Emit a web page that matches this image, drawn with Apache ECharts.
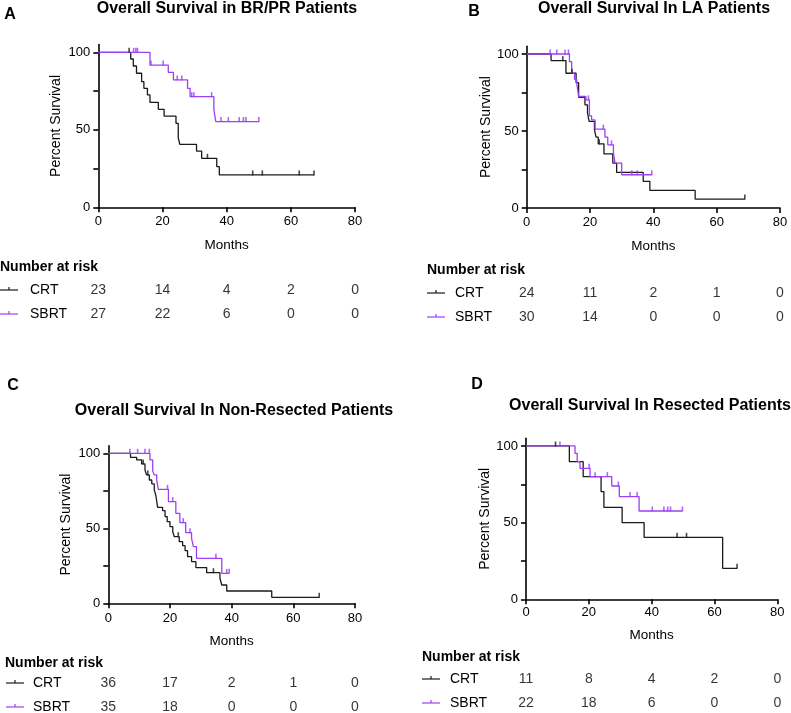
<!DOCTYPE html>
<html><head><meta charset="utf-8">
<script src="https://cdn.jsdelivr.net/npm/echarts@6/dist/echarts.min.js"></script>
<style>html,body{margin:0;padding:0;background:#fff}#c{width:791px;height:713px}</style>
</head><body><div id="c"></div>
<script>
// ---------- DATA ----------
const xTicks = [0, 20, 40, 60, 80];
const riskTimes = [0, 20, 40, 60, 80];
const groups = ['CRT', 'SBRT'];

// Panel A: BR/PR
const aCrtT = [0, 10.1, 10.9, 11.9, 13.5, 14.2, 15.3, 16.1, 18.7, 20.5, 24.2, 24.9, 25.4, 30.6, 32.2, 36.9, 37.7, 67.2];
const aCrtS = [100, 95.7, 91.2, 86.5, 81.1, 76.8, 72.5, 67.7, 63.2, 58.9, 54.2, 44.9, 40.6, 36.3, 31.6, 26.2, 20.9, 20.9];
const aCrtC = [9.6, 34, 48.1, 51.1, 62.6, 67.2];
const aSbT = [0, 16.1, 21.8, 23.4, 27.8, 28.6, 36.0, 36.6, 50];
const aSbS = [100, 91.8, 87.1, 82.2, 76.8, 71.4, 63.2, 55.3, 55.3];
const aSbC = [11, 11.7, 12.2, 16.4, 20.2, 24.6, 26, 29.1, 29.8, 35.3, 38.2, 40.5, 43.9, 45.2, 46, 50];
const aRiskCrt = [23, 14, 4, 2, 0];
const aRiskSb = [27, 22, 6, 0, 0];

// Panel B: LA
const bCrtT = [0, 7.7, 12.4, 15.6, 16.4, 18.4, 19.2, 19.7, 21.4, 21.9, 22.6, 24.4, 27.2, 28.4, 36.8, 38.9, 53.2, 68.9];
const bCrtS = [100, 95.7, 87.5, 81.4, 71.9, 67, 62, 56.2, 50.8, 46, 41.7, 35.2, 29.2, 23.1, 17.3, 11.4, 5.8, 5.8];
const bCrtC = [11.4, 14.3, 22.9, 68.9];
const bSbT = [0, 13.5, 14.2, 15.1, 15.8, 16.4, 18.7, 19.8, 20.5, 21.6, 24.7, 25.6, 27.4, 27.9, 30, 39.5];
const bSbS = [100, 95, 87.5, 83.6, 81, 72.4, 70.2, 59.8, 57.2, 51.2, 46, 41, 35.6, 29.2, 21.6, 21.6];
const bSbC = [7.4, 9.5, 12.1, 13.2, 19.5, 24.2, 26.8, 33.2, 34.9, 39.5];
const bRiskCrt = [24, 11, 2, 1, 0];
const bRiskSb = [30, 14, 0, 0, 0];

// Panel C: Non-Resected
const cCrtT = [0, 7.2, 9.2, 10.8, 11.9, 12.4, 13.3, 14.1, 14.9, 15.4, 16.0, 17.6, 18.4, 19.1, 20.0, 20.9, 21.4, 23.0, 24.1, 24.9, 25.7, 27.0, 28.4, 31.9, 36.2, 36.8, 38.4, 53.0, 68.4];
const cCrtS = [100, 97.3, 95.6, 92.9, 88.9, 85.6, 82.2, 79.6, 75.6, 72.2, 64, 61.8, 57.8, 54.4, 51.1, 47.8, 44.4, 41.1, 38.4, 35.1, 31.1, 27.8, 23.8, 20.4, 16.7, 12.2, 8.2, 4, 4];
const cCrtC = [11.3, 12.8, 22.7, 34.1, 68.4];
const cSbT = [0, 13.5, 14.4, 14.9, 15.7, 16.2, 19.5, 21.9, 23.2, 25.1, 27.0, 27.6, 28.6, 36.8, 39.2];
const cSbS = [100, 95.6, 88.4, 85.6, 82.2, 76, 67.8, 60, 53.8, 47.1, 43.3, 37.8, 30, 20, 20];
const cSbC = [7, 9.5, 11.9, 13.3, 19.2, 20.9, 24.3, 26.5, 34.9, 38.4, 39.2];
const cRiskCrt = [36, 17, 2, 1, 0];
const cRiskSb = [35, 18, 0, 0, 0];

// Panel D: Resected
const dCrtT = [0, 13.8, 18.2, 23.9, 24.8, 30.6, 37.6, 62.6, 67.2];
const dCrtS = [100, 89.8, 80, 70.2, 60, 50, 40.4, 20.2, 20.2];
const dCrtC = [9.4, 48.1, 51.1, 67.2];
const dSbT = [0, 15.6, 16.3, 17.2, 20.4, 27.3, 29.7, 36.0, 49.8];
const dSbS = [100, 95.2, 89.8, 85.4, 80, 73.9, 67, 57.6, 57.6];
const dSbC = [10.8, 20.1, 22.0, 25.9, 29.4, 33.1, 35.4, 40.2, 43.9, 45.1, 46, 49.8];
const dRiskCrt = [11, 8, 4, 2, 0];
const dRiskSb = [22, 18, 6, 0, 0];

// ---------- LAYOUT ----------
const FONT = '"Liberation Sans", Arial, Helvetica, sans-serif';
const BLACK = '#1a1a1a', PURPLE = '#9b40f5';

const panels = [
  {letter: 'A', title: 'Overall Survival in BR/PR Patients',
   crt: [aCrtT, aCrtS, aCrtC], sb: [aSbT, aSbS, aSbC], risk: [aRiskCrt, aRiskSb],
   grid: {left: 98.3, top: 44.6, width: 256.8, height: 162.7}, riskTop: 290,
   titleXY: [227, 9], letterXY: [10, 15], yGap: 35, xGap: 31, xMargin: 8,
   narXY: [0, 267], legX: 0, grpX: 30},
  {letter: 'B', title: 'Overall Survival In LA Patients',
   crt: [bCrtT, bCrtS, bCrtC], sb: [bSbT, bSbS, bSbC], risk: [bRiskCrt, bRiskSb],
   grid: {left: 526.7, top: 46.3, width: 253.3, height: 161.7}, riskTop: 293,
   titleXY: [654, 9], letterXY: [474, 12], yGap: 33, xGap: 31, xMargin: 8,
   narXY: [427, 270], legX: 427, grpX: 455},
  {letter: 'C', title: 'Overall Survival In Non-Resected Patients',
   crt: [cCrtT, cCrtS, cCrtC], sb: [cSbT, cSbS, cSbC], risk: [cRiskCrt, cRiskSb],
   grid: {left: 108.3, top: 445.8, width: 246.7, height: 157.5}, riskTop: 683,
   titleXY: [234, 411], letterXY: [13, 386], yGap: 35, xGap: 31, xMargin: 9,
   narXY: [5, 663], legX: 6, grpX: 33},
  {letter: 'D', title: 'Overall Survival In Resected Patients',
   crt: [dCrtT, dCrtS, dCrtC], sb: [dSbT, dSbS, dSbC], risk: [dRiskCrt, dRiskSb],
   grid: {left: 526, top: 438.3, width: 251.3, height: 161}, riskTop: 679,
   titleXY: [650, 406], letterXY: [477, 385], yGap: 32, xGap: 29, xMargin: 7,
   narXY: [422, 657], legX: 422, grpX: 450}
];

function survAt(T, S, t) {
  let v = S[0];
  for (let i = 0; i < T.length; i++) if (T[i] <= t + 1e-9) v = S[i];
  return v;
}

const grids = [], xAxes = [], yAxes = [], series = [], graphics = [];
panels.forEach((p, k) => {
  const gi = grids.length;
  grids.push(p.grid);
  xAxes.push({
    type: 'value', gridIndex: gi, min: 0, max: 80, interval: 20,
    name: 'Months', nameLocation: 'middle', nameGap: p.xGap,
    nameTextStyle: {fontFamily: FONT, fontSize: 13.5, color: '#000'},
    axisLine: {show: true, lineStyle: {color: '#000', width: 1.6}},
    axisTick: {show: true, length: 5, lineStyle: {color: '#000', width: 1.6}},
    axisLabel: {fontFamily: FONT, fontSize: 13, color: '#000', margin: p.xMargin},
    splitLine: {show: false}
  });
  yAxes.push({
    type: 'value', gridIndex: gi, min: 0, max: 105,
    name: 'Percent Survival', nameLocation: 'middle', nameGap: p.yGap, nameRotate: 90,
    nameTextStyle: {fontFamily: FONT, fontSize: 14, color: '#000'},
    axisLine: {show: true, lineStyle: {color: '#000', width: 1.6}},
    axisTick: {show: true, length: 5, lineStyle: {color: '#000', width: 1.6}, customValues: [0, 25, 50, 75, 100]},
    axisLabel: {fontFamily: FONT, fontSize: 13, color: '#000', margin: 8, customValues: [0, 50, 100]},
    splitLine: {show: false}
  });
  [[p.crt, BLACK], [p.sb, PURPLE]].forEach(([d, col]) => {
    const [T, S, C] = d;
    series.push({
      type: 'line', xAxisIndex: gi, yAxisIndex: gi, step: 'end', showSymbol: false,
      data: T.map((t, i) => [t, S[i]]), lineStyle: {color: col, width: 1.3}, silent: true, z: 3
    });
    series.push({
      type: 'scatter', xAxisIndex: gi, yAxisIndex: gi, symbol: 'rect', symbolSize: [1.6, 5],
      symbolOffset: [0, -2], itemStyle: {color: col}, silent: true, z: 4,
      data: C.map(t => [t, survAt(T, S, t)])
    });
  });
  // risk table grid: row 0 (CRT) at top edge, row 1 (SBRT) at bottom edge
  const ri = grids.length;
  grids.push({left: p.grid.left, width: p.grid.width, top: p.riskTop, height: 24});
  xAxes.push({type: 'value', gridIndex: ri, min: 0, max: 80, show: false});
  yAxes.push({type: 'value', gridIndex: ri, min: 0, max: 1, inverse: true, show: false});
  p.risk.forEach((arr, row) => {
    series.push({
      type: 'scatter', xAxisIndex: ri, yAxisIndex: ri, symbolSize: 1,
      itemStyle: {color: 'rgba(0,0,0,0)'}, silent: true,
      label: {show: true, position: 'inside', formatter: q => String(q.value[2]),
              fontFamily: FONT, fontSize: 14, color: '#000'},
      data: riskTimes.map((t, i) => [t, row, arr[i]])
    });
  });
  // texts
  graphics.push({type: 'text', x: p.titleXY[0], y: p.titleXY[1],
    style: {text: p.title, font: 'bold 16px ' + FONT, fill: '#000', align: 'center', verticalAlign: 'middle'}});
  graphics.push({type: 'text', x: p.letterXY[0], y: p.letterXY[1],
    style: {text: p.letter, font: 'bold 16px ' + FONT, fill: '#000', align: 'center', verticalAlign: 'middle'}});
  graphics.push({type: 'text', x: p.narXY[0], y: p.narXY[1],
    style: {text: 'Number at risk', font: 'bold 14px ' + FONT, fill: '#000', align: 'left', verticalAlign: 'middle'}});
  [[groups[0], BLACK], [groups[1], PURPLE]].forEach(([g, col], row) => {
    const yy = p.riskTop + row * 24;
    graphics.push({type: 'line', shape: {x1: p.legX, y1: yy, x2: p.legX + 18, y2: yy},
      style: {stroke: col, lineWidth: 1.2}});
    graphics.push({type: 'line', shape: {x1: p.legX + 9, y1: yy, x2: p.legX + 9, y2: yy - 3},
      style: {stroke: col, lineWidth: 1.2}});
    graphics.push({type: 'text', x: p.grpX, y: yy,
      style: {text: g, font: '14px ' + FONT, fill: '#000', align: 'left', verticalAlign: 'middle'}});
  });
});

const chart = echarts.init(document.getElementById('c'), null, {renderer: 'canvas'});
chart.setOption({
  animation: false, backgroundColor: '#fff',
  grid: grids, xAxis: xAxes, yAxis: yAxes, series: series, graphic: graphics
});
</script></body></html>
